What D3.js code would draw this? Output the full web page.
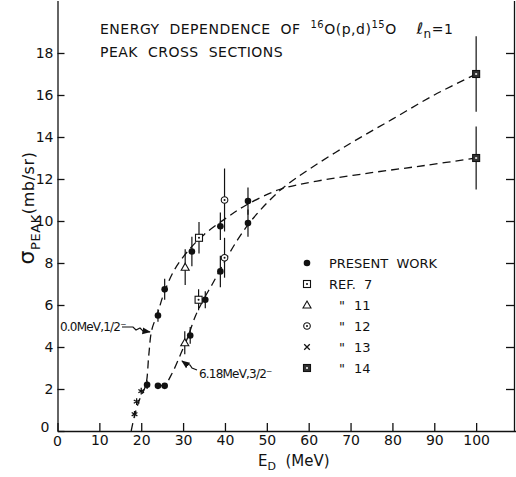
<!DOCTYPE html>
<html lang="en">
  <head>
    <meta charset="UTF-8" />
    <title>16O(p,d)15O peak cross sections - d3</title>
    <script src="https://d3js.org/d3.v7.min.js"></script>
  </head>
  <style>
    html,
    body {
      margin: 0;
      padding: 0;
      background: #fff;
    }
    svg text {
      font-family: "DejaVu Sans", sans-serif;
      fill: #111;
      white-space: pre;
    }
    .axis path,
    .axis line {
      fill: none;
      stroke: #111;
      stroke-width: 1.3;
    }
  </style>
  <body>
    <script>
      // 数据 (E_D in MeV, sigma in mb/sr)
      var xTicks = [0, 10, 20, 30, 40, 50, 60, 70, 80, 90, 100];
      var yTicks = [0, 2, 4, 6, 8, 10, 12, 14, 16, 18];

      // present work, filled circles
      var presentE = [21.4, 24, 25.6, 32.1, 38.9, 45.5, 24, 25.6, 31.7, 35.3, 38.9, 45.5];
      var presentS = [2.2, 5.5, 6.75, 8.55, 9.75, 10.95, 2.15, 2.15, 4.55, 6.25, 7.6, 9.9];
      var presentErr = [0.2, 0.3, 0.5, 0.7, 0.65, 0.65, 0, 0, 0.4, 0.4, 0.75, 0.65];

      var ref7E = [33.8, 33.7];
      var ref7S = [9.2, 6.25];
      var ref7Err = [0.75, 0.5];

      var ref11E = [30.5, 30.4];
      var ref11S = [7.8, 4.2];
      var ref11Err = [0.85, 0.55];

      var ref12E = [39.9, 39.9];
      var ref12S = [11.0, 8.25];
      var ref12Err = [1.5, 0.95];

      var ref13E = [18.4, 18.9, 20.0];
      var ref13S = [0.8, 1.4, 1.9];

      var ref14E = [100, 100];
      var ref14S = [17.0, 13.0];
      var ref14Err = [1.8, 1.5];

      // dashed guide curves
      var curve0E = [17.6, 18.5, 19.6, 21.1, 21.8, 22.5, 23.9, 25.5, 28, 31.5, 35, 40, 45, 53, 62, 75, 88, 100];
      var curve0S = [0, 0.8, 1.5, 2.2, 3.6, 4.8, 5.6, 6.6, 7.7, 8.65, 9.35, 10.1, 10.75, 11.5, 11.9, 12.3, 12.65, 13.0];
      var curve618E = [24, 25.6, 27.5, 29.5, 31, 33, 35, 37, 40, 43, 46, 50, 54, 60, 70, 80, 90, 100];
      var curve618S = [2.15, 2.2, 2.8, 3.7, 4.4, 5.5, 6.3, 7.0, 8.1, 9.1, 9.95, 10.85, 11.6, 12.45, 13.7, 14.85, 16.0, 17.0];

      var legendLabels = ["PRESENT  WORK", "REF.  7", "11", "12", "13", "14"];
      var legendKeys = ["present", "ref7", "ref11", "ref12", "ref13", "ref14"];

      var W = 516,
        H = 477;

      var svg = d3
        .select("body")
        .append("svg")
        .attr("width", W)
        .attr("height", H);

      //比例尺
      var x = d3.scaleLinear().domain([0, 109.4]).range([57.5, 515.5]);
      var y = d3.scaleLinear().domain([0, 20.5]).range([431, 0.5]);

      // 坐标轴
      var xAxis = d3
        .axisBottom(x)
        .tickValues(xTicks)
        .tickSize(-8)
        .tickSizeOuter(0)
        .tickPadding(3)
        .tickFormat(function (d) {
          return d === 0 ? "" : d;
        });
      var gx = svg
        .append("g")
        .attr("class", "axis")
        .attr("transform", "translate(0," + y(0) + ")")
        .call(xAxis);
      gx.selectAll("text").attr("font-size", 14).attr("dy", "0.8em");
      svg.append("text").attr("x", x(0)).attr("y", y(0) + 15).attr("text-anchor", "middle").attr("font-size", 14).text("0");

      var yAxis = d3
        .axisLeft(y)
        .tickValues(yTicks)
        .tickSize(-7)
        .tickSizeOuter(0)
        .tickPadding(4);
      var gy = svg
        .append("g")
        .attr("class", "axis")
        .attr("transform", "translate(" + x(0) + ",0)")
        .call(yAxis);
      gy.selectAll("text").attr("font-size", 14);
      gy.selectAll(".tick text")
        .filter(function (d) {
          return d === 0;
        })
        .attr("dy", "0.05em")
        .attr("x", -8);

      // right frame
      svg
        .append("g")
        .attr("class", "axis")
        .attr("transform", "translate(" + (W - 2) + ",0)")
        .call(
          d3
            .axisRight(y)
            .tickValues(yTicks.slice(1))
            .tickSize(-8)
            .tickSizeOuter(0)
            .tickFormat("")
        );

      // 曲线
      var line = d3
        .line()
        .x(function (d) {
          return x(d[0]);
        })
        .y(function (d) {
          return y(d[1]);
        })
        .curve(d3.curveCatmullRom.alpha(0.5));

      [
        [curve0E, curve0S],
        [curve618E, curve618S]
      ].forEach(function (c) {
        svg
          .append("path")
          .datum(d3.zip(c[0], c[1]))
          .attr("d", line)
          .attr("fill", "none")
          .attr("stroke", "#111")
          .attr("stroke-width", 1.3)
          .attr("stroke-dasharray", "8,5");
      });

      // 误差棒
      function errorBars(E, S, err) {
        svg
          .append("g")
          .selectAll("line")
          .data(d3.zip(E, S, err).filter(function (d) {
            return d[2] > 0;
          }))
          .enter()
          .append("line")
          .attr("x1", function (d) { return x(d[0]); })
          .attr("x2", function (d) { return x(d[0]); })
          .attr("y1", function (d) { return y(d[1] - d[2]); })
          .attr("y2", function (d) { return y(d[1] + d[2]); })
          .attr("stroke", "#111")
          .attr("stroke-width", 1.2);
      }
      errorBars(presentE, presentS, presentErr);
      errorBars(ref7E, ref7S, ref7Err);
      errorBars(ref11E, ref11S, ref11Err);
      errorBars(ref12E, ref12S, ref12Err);
      errorBars(ref14E, ref14S, ref14Err);

      // 标记
      function marker(g, key) {
        if (key === "present") {
          g.append("circle").attr("r", 3.3).attr("fill", "#111");
        } else if (key === "ref7") {
          g.append("rect").attr("x", -3.5).attr("y", -3.5).attr("width", 7).attr("height", 7).attr("fill", "#fff").attr("stroke", "#111").attr("stroke-width", 1.1);
          g.append("circle").attr("r", 1).attr("fill", "#111");
        } else if (key === "ref11") {
          g.append("path").attr("d", "M0,-4L4,3L-4,3Z").attr("fill", "#fff").attr("stroke", "#111").attr("stroke-width", 1.1);
        } else if (key === "ref12") {
          g.append("circle").attr("r", 3.3).attr("fill", "#fff").attr("stroke", "#111").attr("stroke-width", 1.1);
          g.append("circle").attr("r", 1).attr("fill", "#111");
        } else if (key === "ref13") {
          g.append("path").attr("d", d3.symbol(d3.symbolX, 22)).attr("fill", "none").attr("stroke", "#111").attr("stroke-width", 1.3);
        } else if (key === "ref13star") {
          g.append("path").attr("d", d3.symbol(d3.symbolAsterisk, 30)).attr("fill", "none").attr("stroke", "#111").attr("stroke-width", 1.3);
        } else if (key === "ref14") {
          g.append("rect").attr("x", -3.5).attr("y", -3.5).attr("width", 7).attr("height", 7).attr("fill", "#333").attr("stroke", "#111").attr("stroke-width", 1.1);
          g.append("rect").attr("x", -1).attr("y", -1).attr("width", 2).attr("height", 2).attr("fill", "#ccc");
        }
      }

      function points(E, S, key) {
        svg
          .append("g")
          .selectAll("g")
          .data(d3.zip(E, S))
          .enter()
          .append("g")
          .attr("transform", function (d) {
            return "translate(" + x(d[0]) + "," + y(d[1]) + ")";
          })
          .each(function () {
            marker(d3.select(this), key);
          });
      }
      points(ref13E, ref13S, "ref13star");
      points(ref7E, ref7S, "ref7");
      points(ref11E, ref11S, "ref11");
      points(ref12E, ref12S, "ref12");
      points(ref14E, ref14S, "ref14");
      points(presentE, presentS, "present");

      // 图例
      var lg = svg.append("g").attr("transform", "translate(307,263)");
      legendKeys.forEach(function (k, i) {
        var row = lg.append("g").attr("transform", "translate(0," + i * 21 + ")");
        marker(row.append("g"), k);
        if (i < 2) {
          row.append("text").attr("x", 22).attr("y", 5).attr("font-size", 13).text(legendLabels[i]);
        } else {
          row.append("text").attr("x", 32).attr("y", 5).attr("font-size", 13).text("\"");
          row.append("text").attr("x", 47).attr("y", 5).attr("font-size", 13).text(legendLabels[i]);
        }
      });

      // 标题
      var t1 = svg.append("text").attr("x", 100).attr("y", 34).attr("font-size", 14).attr("letter-spacing", 0.5);
      t1.append("tspan").text("ENERGY  DEPENDENCE  OF  ");
      t1.append("tspan").attr("font-size", 10).attr("dy", -6).text("16");
      t1.append("tspan").attr("dy", 6).text("O(p,d)");
      t1.append("tspan").attr("font-size", 10).attr("dy", -6).text("15");
      t1.append("tspan").attr("dy", 6).text("O    ");
      t1.append("tspan").attr("font-style", "italic").attr("font-size", 16).text("ℓ");
      t1.append("tspan").attr("font-size", 12).attr("dy", 4).text("n");
      t1.append("tspan").attr("dy", -4).text("=1");
      svg.append("text").attr("x", 100).attr("y", 57).attr("font-size", 14).attr("letter-spacing", 0.5).text("PEAK  CROSS  SECTIONS");

      // curve labels
      svg.append("text").attr("x", 60).attr("y", 331).attr("font-size", 12).attr("letter-spacing", -0.8).text("0.0MeV,1/2⁻");
      svg.append("text").attr("x", 199).attr("y", 378).attr("font-size", 12).attr("letter-spacing", -0.8).text("6.18MeV,3/2⁻");

      svg.append("defs").append("marker")
        .attr("id", "ah").attr("viewBox", "0 0 10 10").attr("refX", 9).attr("refY", 5)
        .attr("markerWidth", 7).attr("markerHeight", 7).attr("orient", "auto")
        .append("path").attr("d", "M0,1L10,5L0,9Z").attr("fill", "#111");
      svg.append("path")
        .attr("d", "M122,327 L133,327 L136,330 L140,328 L143,331 L150,332")
        .attr("fill", "none").attr("stroke", "#111").attr("stroke-width", 1.2).attr("marker-end", "url(#ah)");
      svg.append("path")
        .attr("d", "M197,370 L192,368 L190,365 L186,364 L182,361")
        .attr("fill", "none").attr("stroke", "#111").attr("stroke-width", 1.2).attr("marker-end", "url(#ah)");

      // 轴标题
      var yl = svg.append("text")
        .attr("transform", "translate(34,208) rotate(-90)")
        .attr("text-anchor", "middle")
        .attr("font-size", 16)
        .attr("letter-spacing", 0.6);
      yl.append("tspan").attr("font-size", 22).text("σ");
      yl.append("tspan").attr("font-size", 13).attr("dy", 6).text("PEAK");
      yl.append("tspan").attr("dy", -6).text("(mb/sr)");

      var xl = svg.append("text").attr("x", 258).attr("y", 466).attr("font-size", 15);
      xl.append("tspan").text("E");
      xl.append("tspan").attr("font-size", 11).attr("dy", 4).text("D");
      xl.append("tspan").attr("dy", -4).text("  (MeV)");
    </script>
  </body>
</html>
